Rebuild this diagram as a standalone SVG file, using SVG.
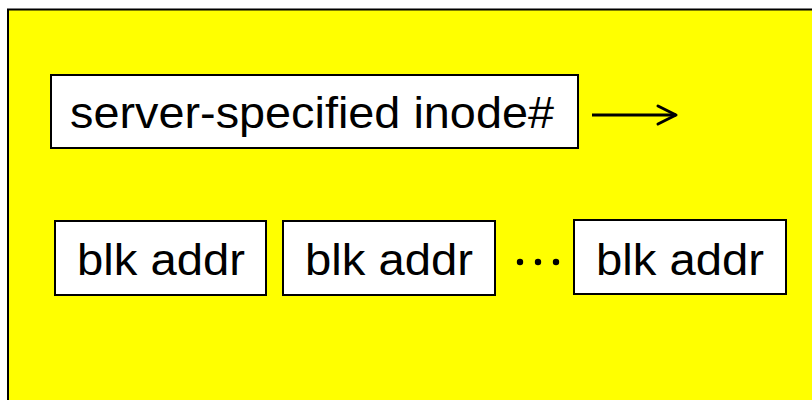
<svg xmlns="http://www.w3.org/2000/svg" width="812" height="400" viewBox="0 0 812 400">
<style>
.box{fill:#fff;stroke:#000;stroke-width:2}
.t{font-family:"Liberation Sans","DejaVu Sans",sans-serif;font-size:44px;fill:#000}
</style>
<defs>
<marker id="ah" markerWidth="24" markerHeight="24" refX="21" refY="12" orient="auto" markerUnits="userSpaceOnUse">
<path d="M3,3 L21,12 L3,21" fill="none" stroke="#000" stroke-width="3" stroke-linecap="round" stroke-linejoin="round"/>
</marker>
</defs>
<rect x="0" y="0" width="812" height="400" fill="#fff"/>
<rect x="8" y="9.5" width="812" height="400" fill="#ffff00" stroke="#000" stroke-width="2"/>
<g id="inode">
<rect class="box" x="51" y="75" width="527" height="73"/>
<text class="t" x="70" y="128" textLength="484" lengthAdjust="spacingAndGlyphs">server-specified inode#</text>
</g>
<g id="blk1">
<rect class="box" x="55" y="221" width="211" height="74"/>
<text class="t" x="77" y="275" textLength="168" lengthAdjust="spacingAndGlyphs">blk addr</text>
</g>
<g id="blk2">
<rect class="box" x="283" y="221" width="212" height="74"/>
<text class="t" x="305" y="275" textLength="168" lengthAdjust="spacingAndGlyphs">blk addr</text>
</g>
<g id="blk3">
<rect class="box" x="574" y="220" width="212" height="74"/>
<text class="t" x="596" y="275" textLength="168" lengthAdjust="spacingAndGlyphs">blk addr</text>
</g>
<g id="dots">
<circle cx="520" cy="262" r="3.2" fill="#000"/>
<circle cx="538" cy="262" r="3.2" fill="#000"/>
<circle cx="556" cy="262" r="3.2" fill="#000"/>
</g>
<g id="connectors">
<line x1="592" y1="115" x2="676" y2="115" stroke="#000" stroke-width="3" marker-end="url(#ah)"/>
</g>
</svg>
